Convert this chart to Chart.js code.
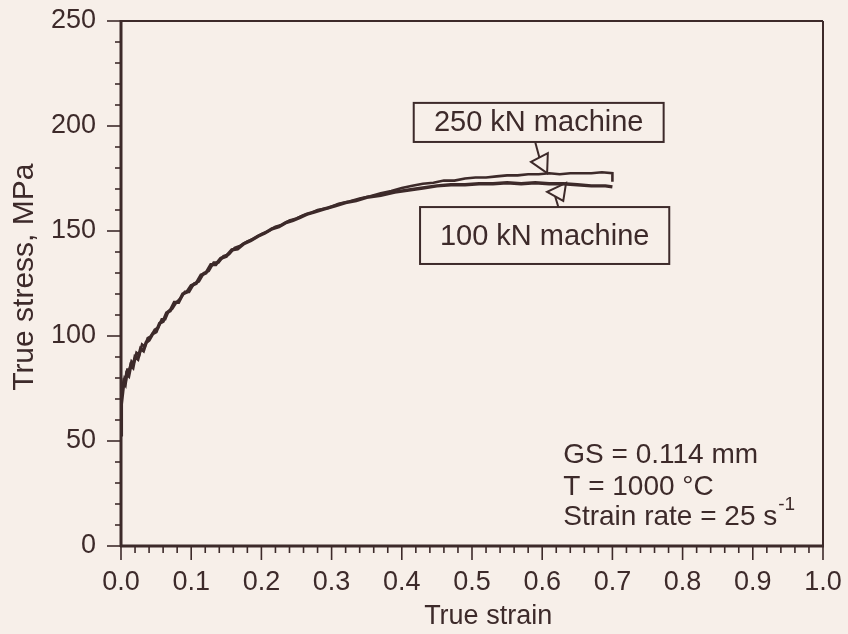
<!DOCTYPE html>
<html>
<head>
<meta charset="utf-8">
<script src="https://cdn.jsdelivr.net/npm/chart.js@4.4.1/dist/chart.umd.min.js"></script>
<style>
  html, body { margin: 0; padding: 0; background: #f7efe9; }
  canvas { display: block; }
</style>
</head>
<body>
<canvas id="flow" width="848" height="634"></canvas>
<script>
// flow curves, 100 kN and 250 kN machines
const strain100 = [0, 0, 0.001, 0.002, 0.004, 0.006, 0.008, 0.011, 0.014, 0.017,
  0.02, 0.024, 0.028, 0.032, 0.036, 0.04, 0.045, 0.05, 0.055, 0.06,
  0.065, 0.07, 0.076, 0.082, 0.088, 0.094, 0.10, 0.107, 0.114, 0.121,
  0.128, 0.135, 0.142, 0.15, 0.158, 0.166, 0.175, 0.185, 0.195, 0.205,
  0.215, 0.225, 0.235, 0.245, 0.255, 0.265, 0.275, 0.29, 0.305, 0.32,
  0.335, 0.35, 0.37, 0.39, 0.41, 0.43, 0.45, 0.47, 0.49, 0.51,
  0.53, 0.55, 0.57, 0.59, 0.61, 0.63, 0.65, 0.67, 0.69, 0.70];
const stress100 = [53, 68, 74, 72, 78, 77, 82, 81, 86, 85,
  90, 89, 94, 93, 97, 98, 101, 102, 106, 107,
  111, 112, 116, 116, 120, 121, 124, 125, 129, 130,
  134, 134, 137, 138, 141, 141.5, 144, 145.5, 147.5, 149,
  151, 152, 154, 155, 156.5, 158, 159, 160.5, 162, 163.5,
  164.5, 166, 167, 168.5, 169.5, 170.5, 171.5, 172, 172, 172.5,
  172.5, 173, 172.5, 173, 172.5, 172.5, 172, 171.5, 171.5, 171];

const strain250 = [0, 0, 0.001, 0.003, 0.005, 0.007, 0.009, 0.012, 0.015, 0.018,
  0.022, 0.026, 0.03, 0.034, 0.038, 0.043, 0.048, 0.053, 0.058, 0.063,
  0.068, 0.073, 0.079, 0.085, 0.091, 0.097, 0.104, 0.111, 0.118, 0.125,
  0.132, 0.139, 0.146, 0.154, 0.162, 0.17, 0.18, 0.19, 0.2, 0.21,
  0.22, 0.23, 0.24, 0.25, 0.26, 0.27, 0.28, 0.295, 0.31, 0.325,
  0.34, 0.355, 0.37, 0.385, 0.40, 0.415, 0.43, 0.445, 0.46, 0.475,
  0.49, 0.505, 0.52, 0.535, 0.55, 0.565, 0.58, 0.595, 0.61, 0.625,
  0.64, 0.655, 0.67, 0.685, 0.70, 0.70];
const stress250 = [55, 72, 70, 77, 80, 79, 84, 84, 88, 87,
  92, 91, 96, 95, 99, 100, 103, 104, 108, 108,
  112, 113, 116, 118, 121, 121, 125, 126, 130, 131,
  135, 135, 138, 139, 142, 143, 145, 146.5, 148.5, 150,
  152, 153, 155, 156, 157.5, 158.5, 160, 161, 163, 164,
  165.5, 166.5, 168, 169, 170.5, 171.5, 172.5, 173, 174, 174,
  175, 175.5, 175.5, 176, 176.5, 176.5, 177, 177, 177.5, 177,
  177.5, 177.5, 177.5, 178, 177.5, 173.5];

const seriesNames = ['100 kN machine', '250 kN machine'];
const testInfo = ['GS = 0.114 mm', 'T = 1000 °C', 'Strain rate = 25 s'];

const ink = '#3d2a2a';
const face = '"Liberation Sans", Arial, sans-serif';

// callout boxes with open-triangle arrows, in data units
const callouts = [
  { text: seriesNames[1], box: [0.417, 211, 0.773, 192.4], stem: [0.590, 192.4],
    base: [[0.584, 182.9], [0.608, 187.1]], tip: [0.607, 177.6] },
  { text: seriesNames[0], box: [0.426, 161.4, 0.781, 134.3], stem: [0.623, 161.4],
    base: [[0.607, 168.6], [0.630, 164.3]], tip: [0.634, 172.9] }
];

const pts = (xs, ys) => xs.map((v, i) => ({ x: v, y: ys[i] }));

const decor = {
  id: 'decor',
  afterDraw(chart) {
    const { ctx, chartArea: a, scales: { x, y } } = chart;
    const X = v => x.getPixelForValue(v), Y = v => y.getPixelForValue(v);
    ctx.save();
    ctx.strokeStyle = ink;
    ctx.fillStyle = ink;

    // frame
    const edge = (x1, y1, x2, y2, w) => {
      ctx.lineWidth = w; ctx.beginPath(); ctx.moveTo(x1, y1); ctx.lineTo(x2, y2); ctx.stroke();
    };
    edge(a.left, a.top - 1, a.left, a.bottom + 1, 3);
    edge(a.left - 1, a.bottom, a.right + 1, a.bottom, 3);
    edge(a.left, a.top, a.right, a.top, 2);
    edge(a.right, a.top, a.right, a.bottom, 2);

    // major and minor ticks, pointing out
    for (let i = 0; i <= 50; i++) {
      const px = X(i * 0.02);
      edge(px, a.bottom, px, a.bottom + (i % 5 === 0 ? 14 : 7), 1.6);
    }
    for (let i = 0; i <= 25; i++) {
      const py = Y(i * 10);
      edge(a.left - (i % 5 === 0 ? 14 : 6), py, a.left, py, 1.6);
    }

    // callouts
    ctx.font = '29px ' + face;
    ctx.textAlign = 'center';
    ctx.textBaseline = 'middle';
    callouts.forEach(c => {
      const [x1, y1, x2, y2] = c.box;
      ctx.fillStyle = '#f7efe9';
      ctx.fillRect(X(x1), Y(y1), X(x2) - X(x1), Y(y2) - Y(y1));
      ctx.fillStyle = ink;
      ctx.lineWidth = 2;
      ctx.strokeRect(X(x1), Y(y1), X(x2) - X(x1), Y(y2) - Y(y1));
      ctx.fillText(c.text, (X(x1) + X(x2)) / 2, (Y(y1) + Y(y2)) / 2 + 1);
      const mx = (X(c.base[0][0]) + X(c.base[1][0])) / 2;
      const my = (Y(c.base[0][1]) + Y(c.base[1][1])) / 2;
      edge(X(c.stem[0]), Y(c.stem[1]), mx, my, 2);
      ctx.beginPath();
      ctx.moveTo(X(c.base[0][0]), Y(c.base[0][1]));
      ctx.lineTo(X(c.base[1][0]), Y(c.base[1][1]));
      ctx.lineTo(X(c.tip[0]), Y(c.tip[1]));
      ctx.closePath();
      ctx.stroke();
    });

    // test conditions
    ctx.font = '28px ' + face;
    ctx.textAlign = 'left';
    const rows = [43.3, 28.1, 13.8];
    testInfo.forEach((t, i) => ctx.fillText(t, X(0.63), Y(rows[i])));
    const w = ctx.measureText(testInfo[2]).width;
    ctx.font = '19px ' + face;
    ctx.fillText('-1', X(0.63) + w + 1, Y(rows[2]) - 12);

    // axis titles
    ctx.font = '27px ' + face;
    ctx.textAlign = 'center';
    ctx.fillText('True strain', X(0.523), chart.height - 17);
    ctx.font = '30px ' + face;
    ctx.translate(25, Y(128));
    ctx.rotate(-Math.PI / 2);
    ctx.fillText('True stress, MPa', 0, 0);
    ctx.restore();
  }
};

new Chart(document.getElementById('flow'), {
  type: 'scatter',
  data: {
    datasets: [
      { label: seriesNames[1], data: pts(strain250, stress250), showLine: true,
        borderColor: ink, borderWidth: 2.6, pointRadius: 0, tension: 0 },
      { label: seriesNames[0], data: pts(strain100, stress100), showLine: true,
        borderColor: ink, borderWidth: 3.4, pointRadius: 0, tension: 0 }
    ]
  },
  options: {
    responsive: false,
    animation: false,
    devicePixelRatio: 1,
    layout: { padding: { top: 21, right: 25, left: 0, bottom: 0 } },
    plugins: { legend: { display: false }, tooltip: { enabled: false } },
    scales: {
      x: {
        type: 'linear', min: 0, max: 1,
        grid: { display: false, drawTicks: false },
        border: { display: false },
        ticks: { stepSize: 0.1, padding: 20, color: ink, font: { family: face, size: 27 },
          callback: v => v.toFixed(1), maxRotation: 0 },
        // keep the label overhang from shrinking the plot area
        afterFit: s => { s.height = 88; s.paddingLeft = 0; s.paddingRight = 0; }
      },
      y: {
        type: 'linear', min: 0, max: 250,
        grid: { display: false, drawTicks: false },
        border: { display: false },
        ticks: { stepSize: 50, padding: 25, color: ink, font: { family: face, size: 27 } },
        afterFit: s => { s.width = 121; s.paddingTop = 0; s.paddingBottom = 0; }
      }
    }
  },
  plugins: [decor]
});
</script>
</body>
</html>
